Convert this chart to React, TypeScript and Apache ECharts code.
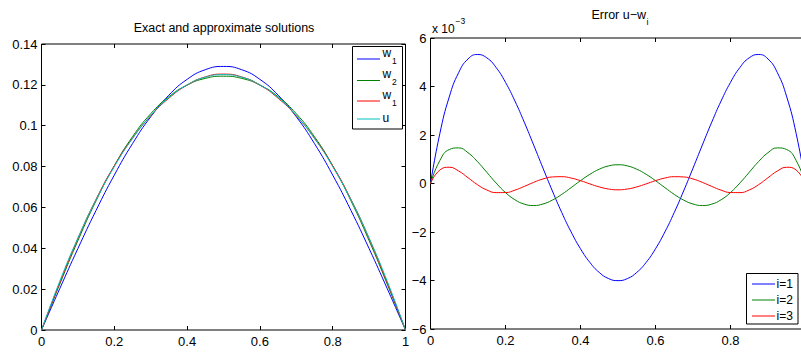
import React, { useEffect, useRef } from 'react';
import * as echarts from 'echarts';

const FONT = '"Liberation Sans", Arial, Helvetica, sans-serif';

// Left panel: x samples and solutions
const xsL = [0, 0.05, 0.1, 0.15, 0.2, 0.25, 0.3, 0.35, 0.4, 0.45, 0.5, 0.55, 0.6, 0.65, 0.7, 0.75, 0.8, 0.85, 0.9, 0.95, 1];
const w1L = [0, 0.02018, 0.03987, 0.05857, 0.07583, 0.09122, 0.10437, 0.11495, 0.12269, 0.12742, 0.12901, 0.12742, 0.12269, 0.11495, 0.10437, 0.09122, 0.07583, 0.05857, 0.03987, 0.02018, 0];
const w2L = [0, 0.02235, 0.04373, 0.06329, 0.08037, 0.0946, 0.10585, 0.1142, 0.11988, 0.12316, 0.12423, 0.12316, 0.11988, 0.1142, 0.10585, 0.0946, 0.08037, 0.06329, 0.04373, 0.02235, 0];
const w3L = [0, 0.02308, 0.04476, 0.06402, 0.08037, 0.09387, 0.10481, 0.11347, 0.11988, 0.12389, 0.12526, 0.12389, 0.11988, 0.11347, 0.10481, 0.09387, 0.08037, 0.06402, 0.04476, 0.02308, 0];
const uL = [0, 0.02375, 0.045, 0.06375, 0.08, 0.09375, 0.105, 0.11375, 0.12, 0.12375, 0.125, 0.12375, 0.12, 0.11375, 0.105, 0.09375, 0.08, 0.06375, 0.045, 0.02375, 0];

// Right panel: errors (units of 1e-3)
const xsR = [0, 0.025, 0.05, 0.075, 0.1, 0.125, 0.15, 0.175, 0.2, 0.225, 0.25, 0.275, 0.3, 0.325, 0.35, 0.375, 0.4, 0.425, 0.45, 0.475, 0.5, 0.525, 0.55, 0.575, 0.6, 0.625, 0.65, 0.675, 0.7, 0.725, 0.75, 0.775, 0.8, 0.825, 0.85, 0.875, 0.9, 0.925, 0.95, 0.975, 1];
const e1 = [0, 2.066, 3.569, 4.571, 5.135, 5.32, 5.183, 4.782, 4.171, 3.405, 2.529, 1.59, 0.632, -0.308, -1.196, -1.998, -2.692, -3.254, -3.668, -3.921, -4.006, -3.921, -3.668, -3.254, -2.692, -1.998, -1.196, -0.308, 0.632, 1.59, 2.529, 3.405, 4.171, 4.782, 5.183, 5.32, 5.135, 4.571, 3.569, 2.066, 0];
const e2 = [0, 0.951, 1.4, 1.468, 1.27, 0.906, 0.464, 0.019, -0.373, -0.669, -0.85, -0.907, -0.845, -0.683, -0.449, -0.17, 0.117, 0.379, 0.589, 0.725, 0.772, 0.725, 0.589, 0.379, 0.117, -0.17, -0.449, -0.683, -0.845, -0.907, -0.85, -0.669, -0.373, 0.019, 0.464, 0.906, 1.27, 1.468, 1.4, 0.951, 0];
const e3 = [0, 0.556, 0.67, 0.515, 0.238, -0.047, -0.266, -0.376, -0.373, -0.274, -0.12, 0.046, 0.187, 0.27, 0.281, 0.225, 0.117, -0.016, -0.141, -0.228, -0.26, -0.228, -0.141, -0.016, 0.117, 0.225, 0.281, 0.27, 0.187, 0.046, -0.12, -0.274, -0.373, -0.376, -0.266, -0.047, 0.238, 0.515, 0.67, 0.556, 0];

const leftLegend = [
  { base: 'w', sub: '1', color: '#0000ff' },
  { base: 'w', sub: '2', color: '#008000' },
  { base: 'w', sub: '1', color: '#ff0000' },
  { base: 'u', sub: '', color: '#00bfbf' },
];
const rightLegend = [
  { label: 'i=1', color: '#0000ff' },
  { label: 'i=2', color: '#008000' },
  { label: 'i=3', color: '#ff0000' },
];

const pairs = (xs: number[], ys: number[]) => xs.map((x, i) => [x, ys[i]]);

const minus = (v: number) => (v < 0 ? '\u2212' + String(Math.abs(v)) : String(v));

function lineSeries(name: string, xs: number[], ys: number[], color: string, gi: number) {
  return {
    name,
    type: 'line',
    xAxisIndex: gi * 2,
    yAxisIndex: gi * 2,
    data: pairs(xs, ys),
    showSymbol: false,
    symbol: 'none',
    smooth: true,
    silent: true,
    lineStyle: { color, width: 1 },
    itemStyle: { color },
    emphasis: { disabled: true },
  };
}

const tickStyle = { inside: true, length: 4, lineStyle: { color: '#000', width: 1 } };
const labelStyle = { color: '#000', fontSize: 13, fontFamily: FONT };
const noLine = { show: false, onZero: false };

function buildOption() {
  const gLeft = { left: 41.5, top: 44, width: 364, height: 286 };
  const gRight = { left: 430.5, top: 38, width: 375, height: 291 };

  const xAxes: any[] = [];
  const yAxes: any[] = [];
  // grid 0
  xAxes.push({
    type: 'value', gridIndex: 0, min: 0, max: 1, interval: 0.2, position: 'bottom',
    axisLine: noLine, splitLine: { show: false }, axisTick: tickStyle,
    axisLabel: { ...labelStyle, margin: 5, formatter: (v: number) => String(Math.round(v * 10) / 10) },
    name: 'x', nameLocation: 'middle', nameGap: 24, nameTextStyle: { ...labelStyle },
  });
  xAxes.push({
    type: 'value', gridIndex: 0, min: 0, max: 1, interval: 0.2, position: 'top',
    axisLine: noLine, splitLine: { show: false }, axisTick: tickStyle, axisLabel: { show: false },
  });
  yAxes.push({
    type: 'value', gridIndex: 0, min: 0, max: 0.14, interval: 0.02, position: 'left',
    axisLine: noLine, splitLine: { show: false }, axisTick: tickStyle,
    axisLabel: { ...labelStyle, margin: 4, formatter: (v: number) => String(Math.round(v * 100) / 100) },
  });
  yAxes.push({
    type: 'value', gridIndex: 0, min: 0, max: 0.14, interval: 0.02, position: 'right',
    axisLine: noLine, splitLine: { show: false }, axisTick: tickStyle, axisLabel: { show: false },
  });
  // grid 1
  xAxes.push({
    type: 'value', gridIndex: 1, min: 0, max: 1, interval: 0.2, position: 'bottom',
    axisLine: noLine, splitLine: { show: false }, axisTick: tickStyle,
    axisLabel: { ...labelStyle, margin: 5, formatter: (v: number) => (v >= 1 ? '' : String(Math.round(v * 10) / 10)) },
    name: 'x', nameLocation: 'middle', nameGap: 24, nameTextStyle: { ...labelStyle },
  });
  xAxes.push({
    type: 'value', gridIndex: 1, min: 0, max: 1, interval: 0.2, position: 'top',
    axisLine: noLine, splitLine: { show: false }, axisTick: tickStyle, axisLabel: { show: false },
  });
  yAxes.push({
    type: 'value', gridIndex: 1, min: -6, max: 6, interval: 2, position: 'left',
    axisLine: noLine, splitLine: { show: false }, axisTick: tickStyle,
    axisLabel: { ...labelStyle, margin: 4, formatter: (v: number) => minus(v) },
  });
  yAxes.push({
    type: 'value', gridIndex: 1, min: -6, max: 6, interval: 2, position: 'right',
    axisLine: noLine, splitLine: { show: false }, axisTick: tickStyle, axisLabel: { show: false },
  });

  const series = [
    lineSeries('w1', xsL, w1L, leftLegend[0].color, 0),
    lineSeries('w2', xsL, w2L, leftLegend[1].color, 0),
    lineSeries('w3', xsL, w3L, leftLegend[2].color, 0),
    lineSeries('u', xsL, uL, leftLegend[3].color, 0),
    lineSeries('i=1', xsR, e1, rightLegend[0].color, 1),
    lineSeries('i=2', xsR, e2, rightLegend[1].color, 1),
    lineSeries('i=3', xsR, e3, rightLegend[2].color, 1),
  ];

  const graphics: any[] = [];
  const txt = (text: string, x: number, y: number, fontSize: number, align = 'left') => ({
    type: 'text', x, y, silent: true, z: 100,
    style: { text, fontSize, fontFamily: FONT, fill: '#000', align, verticalAlign: 'middle' },
  });

  // Titles
  graphics.push(txt('Exact and approximate solutions', 224, 28, 12.5, 'center'));
  graphics.push(txt('Error u\u2212w', 646, 14.5, 12.5, 'right'));
  graphics.push(txt('i', 646.5, 22, 9, 'left'));
  // exponent label
  graphics.push(txt('x 10', 432, 28.5, 12, 'left'));
  graphics.push(txt('\u22123', 455.5, 20.5, 8.5, 'left'));

  // Left legend
  graphics.push({
    type: 'rect', z: 90, silent: true,
    shape: { x: 352.5, y: 46.5, width: 50, height: 82.5 },
    style: { fill: '#fff', stroke: '#000', lineWidth: 1 },
  });
  const leftY = [59, 80.5, 101, 119];
  leftLegend.forEach((it, i) => {
    const y = leftY[i];
    graphics.push({
      type: 'line', z: 95, silent: true,
      shape: { x1: 357, y1: y, x2: 380, y2: y },
      style: { stroke: it.color, lineWidth: 1 },
    });
    if (it.sub) {
      graphics.push(txt(it.base, 382.5, y - 6.3, 12, 'left'));
      graphics.push(txt(it.sub, 392, y + 1.8, 8.5, 'left'));
    } else {
      graphics.push(txt(it.base, 382.5, y - 1.5, 12, 'left'));
    }
  });

  // Right legend
  graphics.push({
    type: 'rect', z: 90, silent: true,
    shape: { x: 746.5, y: 273.5, width: 51.5, height: 50.5 },
    style: { fill: '#fff', stroke: '#000', lineWidth: 1 },
  });
  const rightY = [284, 300, 316];
  rightLegend.forEach((it, i) => {
    const y = rightY[i];
    graphics.push({
      type: 'line', z: 95, silent: true,
      shape: { x1: 752, y1: y, x2: 775, y2: y },
      style: { stroke: it.color, lineWidth: 1 },
    });
    graphics.push(txt(it.label, 776.5, y, 12, 'left'));
  });

  return {
    animation: false,
    backgroundColor: '#fff',
    textStyle: { fontFamily: FONT },
    grid: [
      { ...gLeft, show: true, borderColor: '#000', borderWidth: 1, backgroundColor: 'transparent', outerBoundsMode: 'none', containLabel: false },
      { ...gRight, show: true, borderColor: '#000', borderWidth: 1, backgroundColor: 'transparent', outerBoundsMode: 'none', containLabel: false },
    ],
    xAxis: xAxes,
    yAxis: yAxes,
    series,
    graphic: graphics,
  };
}

export default function App() {
  const ref = useRef<HTMLDivElement>(null);
  useEffect(() => {
    if (!ref.current) return;
    const chart = echarts.init(ref.current, null, { renderer: 'svg' });
    chart.setOption(buildOption() as any);
    return () => chart.dispose();
  }, []);
  return (
    <div
      ref={ref}
      style={{ position: 'absolute', left: 0, top: 0, width: 801, height: 356, background: '#fff' }}
    />
  );
}
